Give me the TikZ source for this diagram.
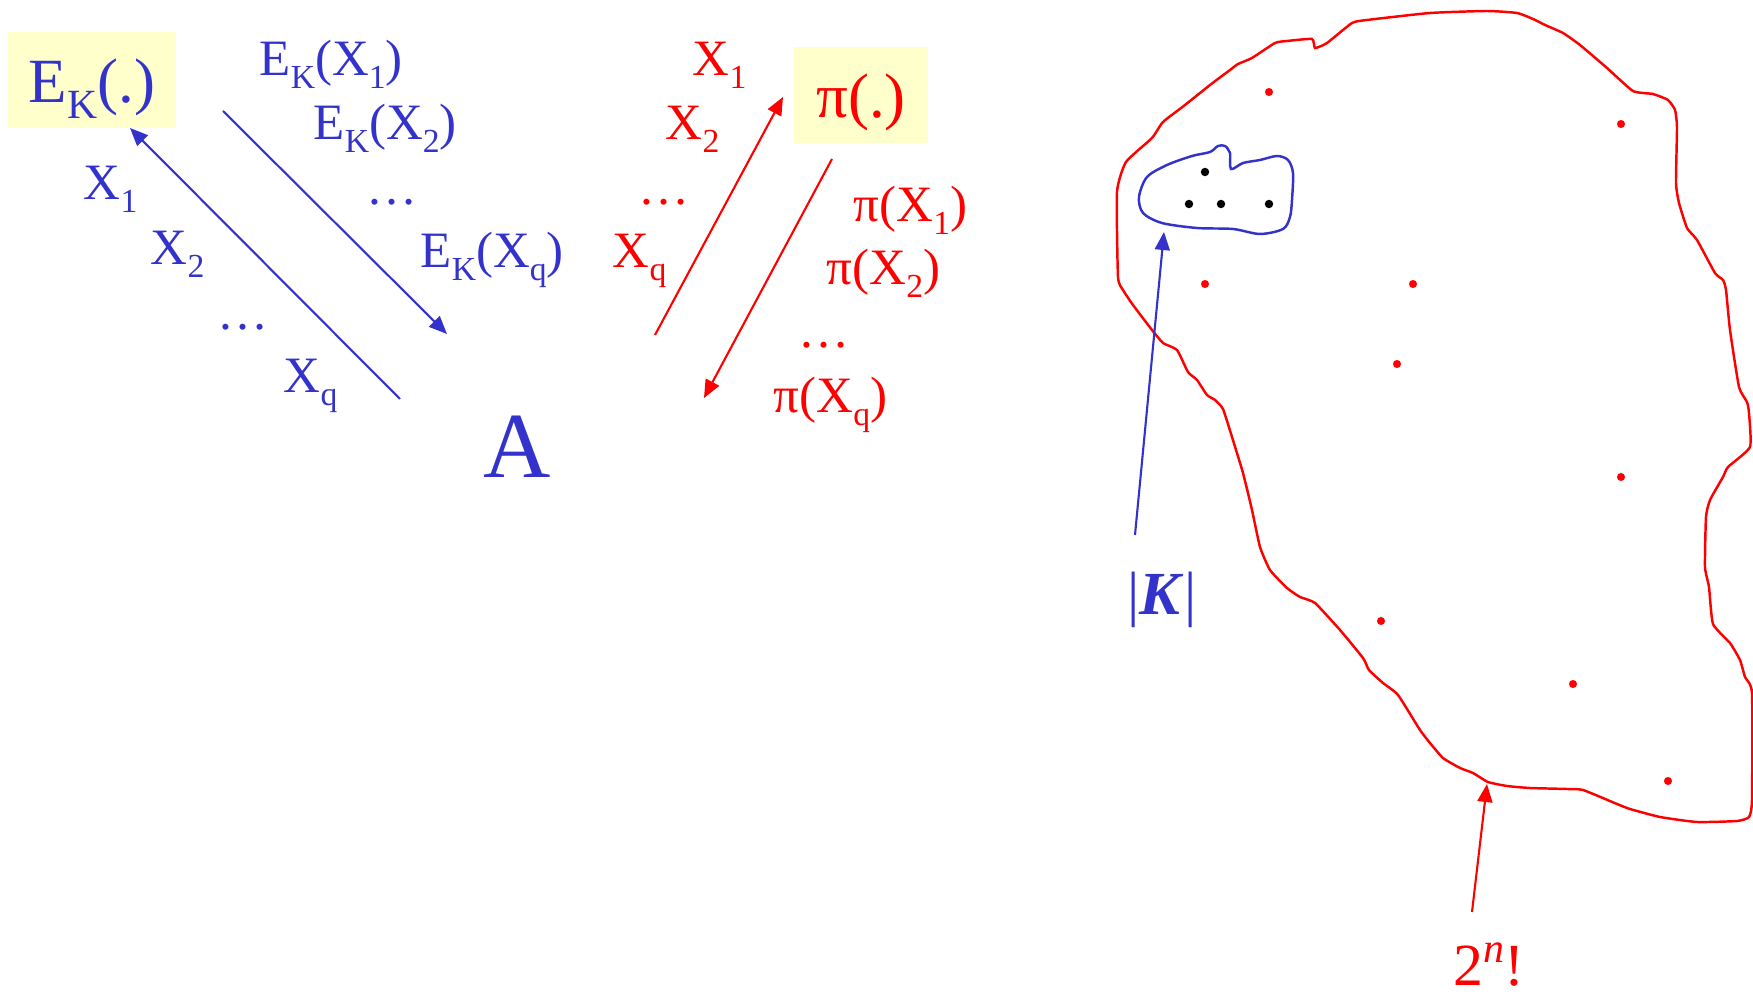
\documentclass[tikz,border=0pt]{standalone}
\usepackage{fontspec}
\setmainfont{Liberation Serif}
\usetikzlibrary{arrows.meta,calc}
\definecolor{encblue}{RGB}{51,51,204}
\definecolor{permred}{RGB}{255,0,0}
\definecolor{oracleyellow}{RGB}{255,255,204}
\newcommand{\lowsub}[1]{\raisebox{-0.25em}{\scalebox{0.66}{#1}}}
\newcommand{\highsup}[1]{\raisebox{0.37em}{\scalebox{0.7}{#1}}}

\begin{document}
\begin{tikzpicture}[
  x=0.01cm, y=-0.01cm,
  lab/.style={inner sep=0pt, anchor=base west, font=\fontsize{14.5}{17}\selectfont},
  blab/.style={lab, text=encblue},
  rlab/.style={lab, text=permred},
  biglab/.style={inner sep=0pt, anchor=base west, font=\fontsize{17.9}{21}\selectfont},
  oracle/.style={fill=oracleyellow, inner sep=0pt, anchor=base,
                 minimum height=0.96cm, text height=0.46cm, text depth=0pt,
                 font=\fontsize{17.9}{21}\selectfont},
  barr/.style={-{Triangle[length=1.8mm, width=1.5mm]}, encblue, line width=0.6pt},
  rarr/.style={-{Triangle[length=1.8mm, width=1.5mm]}, permred, line width=0.6pt},
]
  \useasboundingbox (0,0) rectangle (1753,994);

  %% Left: the cipher oracle and the adversary
  \node[oracle, text=encblue, minimum width=1.68cm] (ek) at (92,103) {E\lowsub{K}(.)};
  \node[blab] (bx1) at (83,200) {X\lowsub{1}};
  \node[blab] (bx2) at ($(bx1.base west)+(67,65)$) {X\lowsub{2}};
  \node[blab] (bdots) at (217,330) {…};
  \node[blab] (bxq) at (283,393) {X\lowsub{q}};
  \node[blab] (ey1) at (259,76) {E\lowsub{K}(X\lowsub{1})};
  \node[blab] (ey2) at ($(ey1.base west)+(54,64)$) {E\lowsub{K}(X\lowsub{2})};
  \node[blab] (edots) at (366,205) {…};
  \node[blab] (eyq) at (420,268) {E\lowsub{K}(X\lowsub{q})};
  \node[inner sep=0pt, anchor=base west, text=encblue,
        font=\fontsize{26.5}{30}\selectfont] (adv) at (483,478) {A};

  %% Middle: the random permutation oracle
  \node[oracle, text=permred, minimum width=1.33cm] (pi) at (861,118) {π(.)};
  \node[rlab] (rx1) at (692,76) {X\lowsub{1}};
  \node[rlab] (rx2) at ($(rx1.base west)+(-27,64)$) {X\lowsub{2}};
  \node[rlab] (rdots) at (638,205) {…};
  \node[rlab] (rxq) at (612,268) {X\lowsub{q}};
  \node[rlab] (py1) at (853,222) {π(X\lowsub{1})};
  \node[rlab] (py2) at ($(py1.base west)+(-27,63)$) {π(X\lowsub{2})};
  \node[rlab] (pdots) at (798,348) {…};
  \node[rlab] (pyq) at (773,413) {π(X\lowsub{q})};

  \coordinate (bqfrom) at (400,399);
  \coordinate (bqto)   at (130,128);
  \coordinate (bafrom) at (223,111);
  \coordinate (bato)   at (447,334);
  \coordinate (rqfrom) at (655,335);
  \coordinate (rqto)   at (783,97);
  \coordinate (rafrom) at (832,159);
  \coordinate (rato)   at (704,398);
  \draw[barr] (bqfrom) -- (bqto);
  \draw[barr] (bafrom) -- (bato);
  \draw[rarr] (rqfrom) -- (rqto);
  \draw[rarr] (rafrom) -- (rato);

  %% Right: all permutations, with the key space inside
  \draw[permred, line width=0.7pt] plot[smooth cycle, tension=0.3] coordinates {
    (1117,192) (1126,162) (1152,138) (1163,122) (1185,105) (1210,85) (1230,70)
    (1238,64) (1252,58) (1275,43) (1287,41) (1312,39) (1315,48) (1327,43)
    (1352,23) (1367,20) (1430,13) (1487,11) (1517,13) (1533,19) (1545,25)
    (1563,33) (1580,45) (1607,68) (1633,91) (1653,94) (1668,100) (1675,110)
    (1677,127) (1676,183) (1679,203) (1687,228) (1697,240) (1715,273) (1723,280)
    (1726,290) (1730,330) (1739,387) (1747,402) (1749,413) (1750,447) (1728,467)
    (1723,477) (1710,500) (1706,517) (1705,567) (1709,587) (1713,624) (1730,643)
    (1740,660) (1745,677) (1752,693) (1752,800) (1749,817) (1737,821) (1697,822)
    (1660,817) (1630,809) (1617,804) (1583,790) (1567,789) (1530,788) (1507,786)
    (1488,782) (1473,773) (1460,768) (1443,758) (1430,743) (1420,730) (1398,695)
    (1383,683) (1369,670) (1363,658) (1340,630) (1315,603) (1300,597) (1287,588)
    (1270,570) (1260,547) (1252,510) (1243,473) (1232,437) (1223,409) (1215,400)
    (1207,395) (1197,380) (1188,372) (1177,350) (1163,343) (1152,330) (1133,305)
    (1123,290) (1118,277)};
  \draw[encblue, line width=0.7pt] plot[smooth cycle, tension=0.5] coordinates {
    (1147,177) (1139,197) (1143,213) (1162,223) (1197,228) (1233,229) (1260,234)
    (1283,229) (1290,217) (1292,200) (1293,173) (1288,160) (1277,156) (1260,160)
    (1243,163) (1231,169) (1230,153) (1225,146) (1218,146) (1210,152) (1192,156)
    (1167,165)};
  \foreach \p in {(1205,172),(1189,204),(1221,204),(1269,204)}
    \fill[black] \p circle (1.2pt);
  \foreach \p in {(1269,92),(1621,124),(1205,284),(1413,284),(1397,364),
                  (1621,477),(1381,621),(1573,684),(1668,781)}
    \fill[permred] \p circle (1.15pt);

  \node[biglab, text=encblue, font=\fontsize{17.4}{21}\selectfont] (keys) at (1127,615)
       {|\textbf{\textit{K}}|};
  \node[biglab, text=permred, font=\fontsize{17}{20}\selectfont] (perms) at (1453,985)
       {2\highsup{\textit{n}}!};
  \coordinate (keysfrom) at (1135,535);
  \coordinate (keysto)   at (1164,232);
  \coordinate (permsfrom) at (1472,912);
  \coordinate (permsto)   at (1487,784);
  \draw[barr] (keysfrom) -- (keysto);
  \draw[rarr] (permsfrom) -- (permsto);
\end{tikzpicture}
\end{document}
